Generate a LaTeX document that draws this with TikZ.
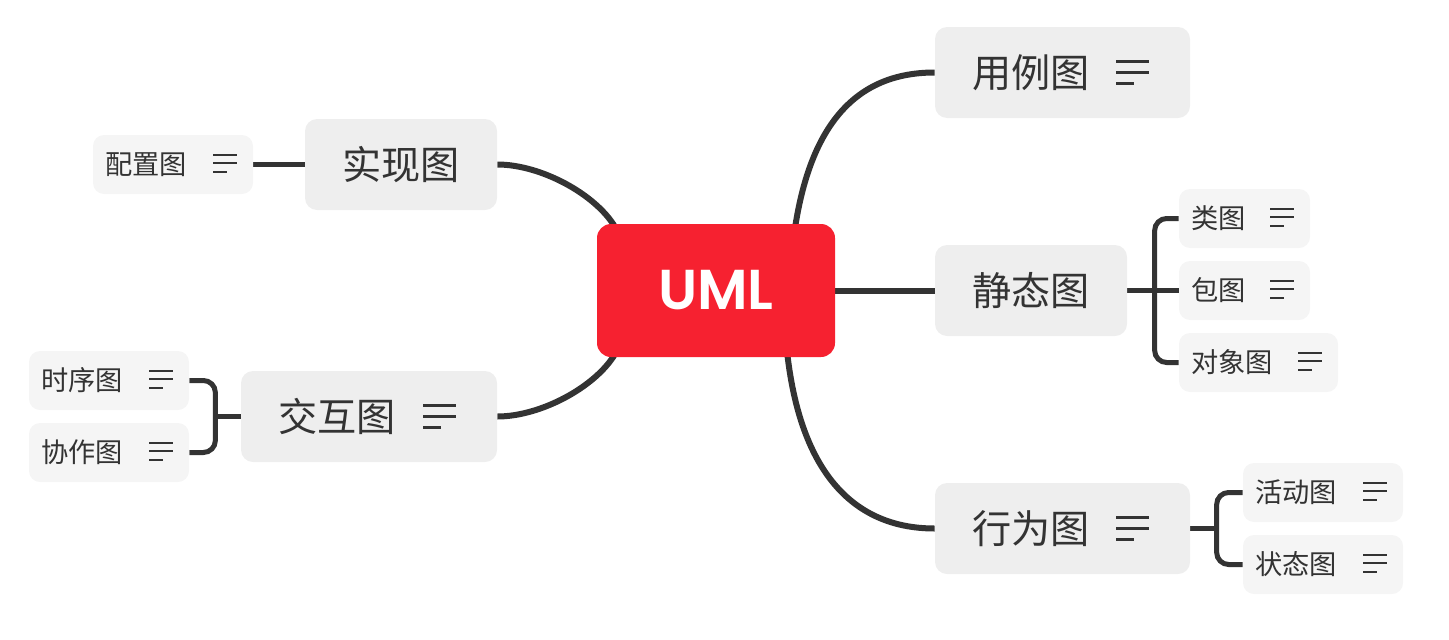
\documentclass[tikz,border=0pt]{standalone}
\usepackage{fontspec}
\newfontfamily\cjk{Noto Sans CJK SC}
\newfontfamily\umlfont{Poppins}[BoldFont={Poppins SemiBold}]
\usetikzlibrary{backgrounds}
\newlength\unitpx
\setlength\unitpx{0.02cm}
\definecolor{umlred}{HTML}{F62130}
\definecolor{topicgray}{HTML}{EEEEEE}
\definecolor{leafgray}{HTML}{F5F5F5}
\definecolor{linegray}{HTML}{333333}
\definecolor{txt}{HTML}{333333}
\tikzset{
  root/.style={fill=umlred, rounded corners=14\unitpx, minimum width=238\unitpx, minimum height=133\unitpx,
    text=white, font=\umlfont\bfseries\fontsize{32}{36}\selectfont},
  topic/.style={fill=topicgray, rounded corners=12\unitpx, minimum height=91\unitpx, inner xsep=37\unitpx,
    align=left, text=txt, font=\cjk\fontsize{22.3}{26}\selectfont},
  leaf/.style={fill=leafgray, rounded corners=11\unitpx, minimum height=59\unitpx, inner xsep=12\unitpx,
    align=left, text=txt, font=\cjk\fontsize{15.5}{18}\selectfont},
  branch/.style={draw=linegray, line width=6\unitpx, shorten <=-4\unitpx},
  twig/.style={draw=linegray, line width=5\unitpx, rounded corners=12\unitpx},
  noteline/.style={draw=txt, line width=#1}
}
\newcommand\bignote[1]{%
  \begin{scope}[shift={(#1.east)}]
    \draw[noteline=3\unitpx] (-74,-11.5) -- (-41,-11.5) (-74,-0.5) -- (-41,-0.5) (-74,10.5) -- (-56,10.5);
  \end{scope}}
\newcommand\smallnote[1]{%
  \begin{scope}[shift={(#1.east)}]
    \draw[noteline=2.2\unitpx] (-40,-9.5) -- (-16,-9.5) (-40,-1.2) -- (-16,-1.2) (-40,7.2) -- (-26,7.2);
  \end{scope}}

\begin{document}
\begin{tikzpicture}[x=0.02cm, y=-0.02cm]
  \useasboundingbox (0,0) rectangle (1449,639);

  \node[root] (uml) at (716,290.5) {UML};

  \node[topic, text width=181\unitpx] (yongli) at (1062.5,72.5) {用例图};
  \node[topic, text width=118\unitpx] (jingtai) at (1031,290.5) {静态图};
  \node[topic, text width=181\unitpx] (xingwei) at (1062.5,528.5) {行为图};
  \node[topic, text width=118\unitpx] (shixian) at (401,164.5) {实现图};
  \node[topic, text width=182\unitpx] (jiaohu) at (369,416.5) {交互图};

  \node[leaf, text width=136\unitpx] (peizhi) at (173,164.5) {配置图};
  \node[leaf, text width=107\unitpx] (lei) at (1244.5,218.5) {类图};
  \node[leaf, text width=107\unitpx] (bao) at (1244.5,290.5) {包图};
  \node[leaf, text width=135\unitpx] (duixiang) at (1258.5,362.5) {对象图};
  \node[leaf, text width=136\unitpx] (huodong) at (1323,492.5) {活动图};
  \node[leaf, text width=136\unitpx] (zhuangtai) at (1323,564.5) {状态图};
  \node[leaf, text width=136\unitpx] (shixu) at (109,380.5) {时序图};
  \node[leaf, text width=136\unitpx] (xiezuo) at (109,452.5) {协作图};

  \bignote{yongli}
  \bignote{xingwei}
  \bignote{jiaohu}
  \foreach \n in {peizhi,lei,bao,duixiang,huodong,zhuangtai,shixu,xiezuo}
    {\smallnote{\n}}

  \begin{scope}[on background layer]
    \draw[branch] (uml.40) .. controls +(16,-104) and +(-75,0) .. (yongli.west);
    \draw[branch] (uml.east) -- (jingtai.west);
    \draw[branch] (uml.-43) .. controls +(14,123) and +(-75,0) .. (xingwei.west);
    \draw[branch] (uml.147) .. controls +(-18,-30) and +(43,0) .. (shixian.east);
    \draw[branch] (uml.213) .. controls +(-18,30) and +(43,0) .. (jiaohu.east);

    \draw[twig] (shixian.west) -- (peizhi.east);
    \draw[twig] (jingtai.east) -- (bao.west);
    \draw[twig] (lei.west) -- ++(-24,0) |- (duixiang.west);
    \draw[twig] (xingwei.east) -- ++(27,0);
    \draw[twig] (huodong.west) -- ++(-26,0) |- (zhuangtai.west);
    \draw[twig] (jiaohu.west) -- ++(-26,0);
    \draw[twig] (shixu.east) -- ++(26,0) |- (xiezuo.east);
  \end{scope}
\end{tikzpicture}
\end{document}
